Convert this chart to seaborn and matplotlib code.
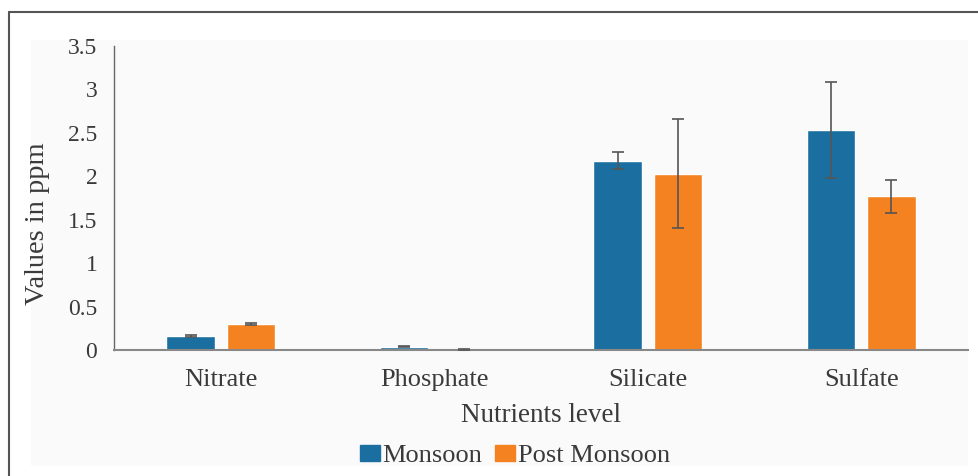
import matplotlib
matplotlib.use("Agg")
import matplotlib.pyplot as plt
import matplotlib.patches as mpatches
import seaborn as sns
import pandas as pd
import numpy as np

categories = ["Nitrate", "Phosphate", "Silicate", "Sulfate"]
monsoon = [0.16, 0.04, 2.18, 2.53]
monsoon_err = [0.01, 0.01, 0.10, 0.55]
post_monsoon = [0.30, 0.0, 2.03, 1.77]
post_monsoon_err = [0.01, 0.015, 0.63, 0.19]
series = ["Monsoon", "Post Monsoon"]
colors = ["#1B6FA0", "#F58220"]

sns.set_theme(style="white")
plt.rcParams['font.family'] = ['Liberation Serif', 'DejaVu Serif']

df = pd.DataFrame({
    "Nutrient": categories * 2,
    "Season": [series[0]] * 4 + [series[1]] * 4,
    "Value": monsoon + post_monsoon,
})
errs = monsoon_err + post_monsoon_err

fig = plt.figure(figsize=(9.79, 4.76), dpi=100)
W, H = 979, 476
# faint panel background and outer frame
fig.patches.append(mpatches.Rectangle((31 / W, 10 / H), (968 - 31) / W, (436 - 10) / H,
                                      transform=fig.transFigure, facecolor="#fafafa",
                                      edgecolor="none", zorder=-10))
fig.lines.append(plt.Line2D([9 / W, 9 / W], [0, 1 - 12 / H], transform=fig.transFigure,
                            color="#555555", lw=1.5))
fig.lines.append(plt.Line2D([9 / W, 1], [1 - 12 / H, 1 - 12 / H], transform=fig.transFigure,
                            color="#555555", lw=1.5))

ax = fig.add_axes([114 / W, (H - 350) / H, (968 - 114) / W, (350 - 46) / H])
ax.set_facecolor("none")
sns.barplot(data=df, x="Nutrient", y="Value", hue="Season", palette=colors,
            order=categories, hue_order=series, width=0.566, gap=0.195,
            errorbar=None, ax=ax, saturation=1, legend=False)

# error bars at each bar's center
for p, e in zip(ax.patches, errs):
    cx = p.get_x() + p.get_width() / 2
    ax.errorbar(cx, p.get_height(), yerr=e, fmt="none", ecolor="#555555",
                elinewidth=1.2, capsize=4, capthick=1.2, zorder=5)

ax.set_ylim(0, 3.5)
ax.set_yticks([0, 0.5, 1, 1.5, 2, 2.5, 3, 3.5])
ax.set_yticklabels(["0", "0.5", "1", "1.5", "2", "2.5", "3", "3.5"])
ax.set_xlim(-0.5, 3.5)
ax.tick_params(axis="y", labelsize=17, colors="#3a3a3a", pad=12, length=0)
ax.tick_params(axis="x", labelsize=19, colors="#3a3a3a", pad=14, length=0)
ax.set_xlabel("Nutrients level", fontsize=19.5, color="#3a3a3a", labelpad=8)
ax.set_ylabel("Values in ppm", fontsize=20.5, color="#3a3a3a")
ax.yaxis.set_label_coords(-(114 - 50) / (968 - 114), (350 - 224) / (350 - 46))

for s in ["top", "right"]:
    ax.spines[s].set_visible(False)
ax.spines["left"].set_color("#666666")
ax.spines["bottom"].set_color("#888888")
ax.spines["left"].set_linewidth(1.0)
ax.spines["bottom"].set_linewidth(1.5)

handles = [mpatches.Patch(color=c, label=s) for c, s in zip(colors, series)]
fig.legend(handles=handles, loc="center", bbox_to_anchor=(515 / W, 1 - 456 / H), ncol=2,
           frameon=False, fontsize=19, handlelength=0.75, handleheight=0.6,
           handletextpad=0.1, columnspacing=0.5, labelcolor="#3a3a3a",
           borderpad=0, borderaxespad=0)

fig.savefig("out.png", dpi=100)
